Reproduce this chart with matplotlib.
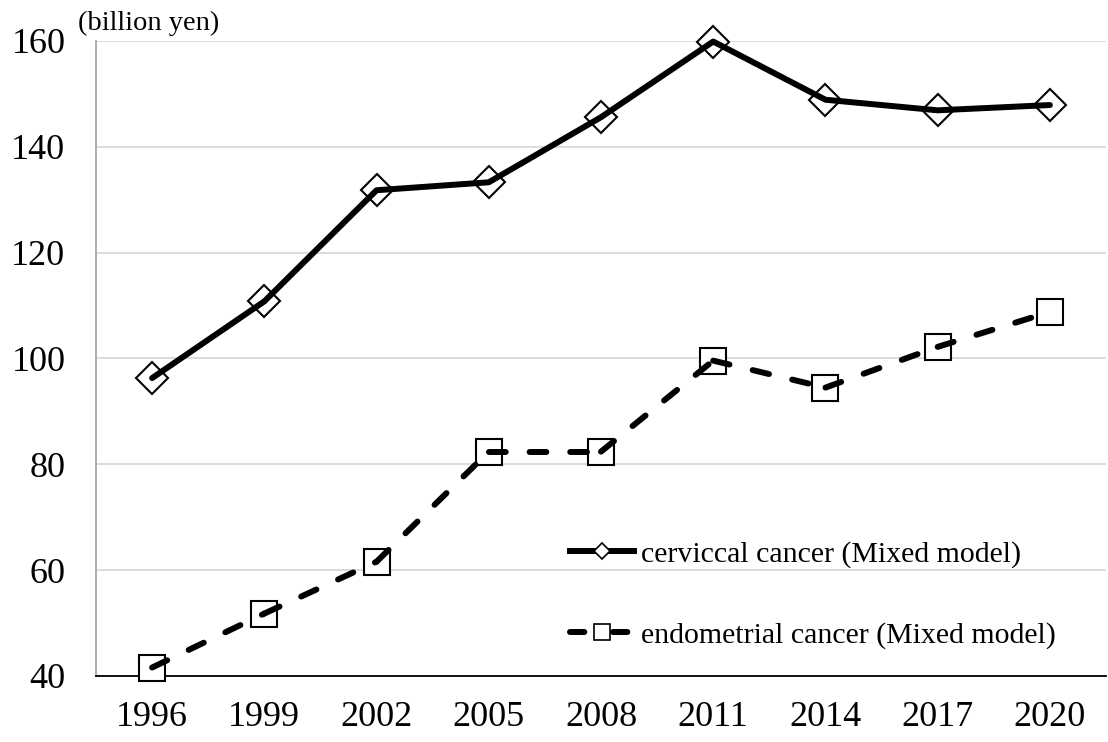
import matplotlib.pyplot as plt
from matplotlib.lines import Line2D

plt.rcParams['font.family'] = ['Liberation Serif', 'DejaVu Serif']

years = ['1996', '1999', '2002', '2005', '2008', '2011', '2014', '2017', '2020']
cervical = [96.3, 110.8, 131.8, 133.3, 145.6, 159.9, 148.9, 146.9, 147.9]
endometrial = [41.6, 51.8, 61.6, 82.4, 82.4, 99.6, 94.5, 102.2, 108.8]

cerv_label = "cerviccal cancer (Mixed model)"
endo_label = "endometrial cancer (Mixed model)"

LW = 4.3
DASH = (0, (2.8, 4.0))

fig = plt.figure(figsize=(11.08, 7.42), dpi=100)
ax = fig.add_axes([96/1108, 1 - 676/742, 1010/1108, 635/742])

# markers first (white fill), line drawn on top of them
ax.plot(years, cervical, linestyle='none', marker='D', markersize=16, clip_on=False,
        markerfacecolor='white', markeredgecolor='black', markeredgewidth=1.5, zorder=3)
ax.plot(years, cervical, color='black', linewidth=LW, solid_capstyle='round',
        solid_joinstyle='round', clip_on=False, zorder=4)

ax.plot(years, endometrial, linestyle='none', marker='s', markersize=19, clip_on=False,
        markerfacecolor='white', markeredgecolor='black', markeredgewidth=1.5, zorder=3)
# dash pattern restarts at every point, like the original
for i in range(len(years) - 1):
    ax.plot(years[i:i+2], endometrial[i:i+2], color='black', linewidth=LW,
            linestyle=DASH, dash_capstyle='round', clip_on=False, zorder=4)

ax.set_xlim(-0.5, len(years) - 0.5)
ax.set_ylim(40, 160)
ax.set_yticks(range(40, 161, 20))
ax.yaxis.grid(True, color='#d9d9d9', linewidth=1.3)
ax.set_axisbelow(True)
ax.tick_params(axis='both', length=0, labelsize=26)
ax.tick_params(axis='y', pad=22)
ax.tick_params(axis='x', pad=18)

for s in ['top', 'right']:
    ax.spines[s].set_visible(False)
ax.spines['left'].set_color('#a6a6a6')
ax.spines['left'].set_linewidth(1.3)
ax.spines['bottom'].set_color('black')
ax.spines['bottom'].set_linewidth(1.3)

fig.text(78/1108, 1 - 30/742, "(billion yen)", fontsize=20.5)

handles = [
    Line2D([], [], color='black', linewidth=LW, marker='D', markersize=8.5,
           markerfacecolor='white', markeredgecolor='black', markeredgewidth=1.2),
    Line2D([], [], color='black', linewidth=LW, linestyle=(0, (2.4, 4.8)), marker='s',
           markersize=11, markerfacecolor='white', markeredgecolor='black',
           markeredgewidth=1.2, dash_capstyle='round'),
]
ax.legend(handles, [cerv_label, endo_label], loc='upper left',
          bbox_to_anchor=(570/1108, 1 - 541/742), bbox_transform=fig.transFigure,
          frameon=False, fontsize=21.5, handlelength=2.15, handletextpad=0.22,
          labelspacing=1.78, borderpad=0, borderaxespad=0)

fig.savefig('out.png', dpi=100)
